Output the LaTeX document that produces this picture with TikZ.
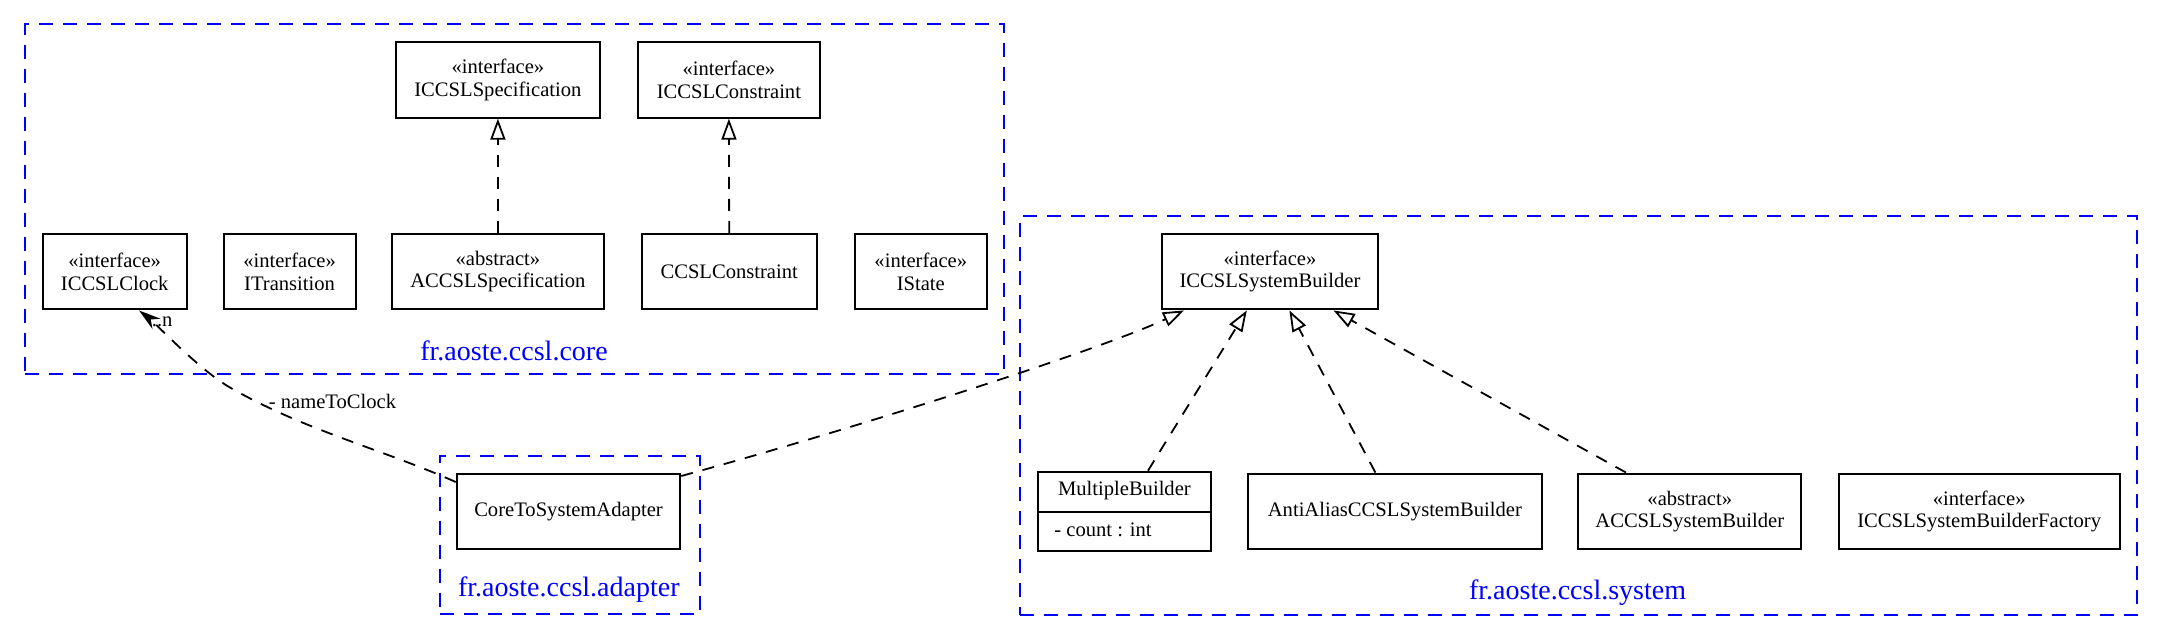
\documentclass[tikz,border=0pt]{standalone}
\usepackage{fontspec}
\setmainfont{Liberation Serif}
\usetikzlibrary{arrows.meta,calc}
\begin{document}
\begin{tikzpicture}[x=0.5pt,y=-0.5pt,
  cls/.style={draw, line width=1pt, inner sep=0pt, align=center, minimum height=37.75pt, font=\fontsize{10.3}{11.2}\selectfont},
  pkg/.style={draw=blue, line width=1pt, dash pattern=on 7pt off 5pt, inner sep=0pt},
  pkglabel/.style={text=blue, font=\fontsize{14}{16}\selectfont, inner sep=0pt},
  realize/.style={draw, line width=0.9pt, dash pattern=on 6pt off 5pt, -{Triangle[open,length=10.5pt,width=7.5pt]}},
  assoc/.style={draw, line width=0.9pt, dash pattern=on 6pt off 5pt, -{Stealth[length=11pt,width=6.5pt]}},
  lbl/.style={font=\fontsize{10.3}{11.2}\selectfont, inner sep=0pt}
]
\useasboundingbox (0,0) rectangle (2165,642);

% packages
\node[pkg, minimum width=489.5pt, minimum height=174.85pt] (core) at (514.5,199.15) {};
\node[pkg, minimum width=130pt, minimum height=79.15pt] (adapterpkg) at (570,534.85) {};
\node[pkg, minimum width=558.5pt, minimum height=199.5pt] (system) at (1578.5,415.5) {};
\node[pkglabel] (corelbl) at (514,350.7) {fr.aoste.ccsl.core};
\node[pkglabel] (adapterlbl) at (568.8,590) {fr.aoste.ccsl.adapter};
\node[pkglabel] (systemlbl) at (1577.6,592.3) {fr.aoste.ccsl.system};

% core classes
\node[cls, minimum width=102.4pt] (ispec) at (497.9,79.9) {«interface»\\ICCSLSpecification};
\node[cls, minimum width=91.15pt] (icons) at (728.9,79.9) {«interface»\\ICCSLConstraint};
\node[cls, minimum width=72.15pt] (iclock) at (114.7,271.7) {«interface»\\ICCSLClock};
\node[cls, minimum width=66.05pt] (itrans) at (289.6,271.7) {«interface»\\ITransition};
\node[cls, minimum width=105.6pt] (aspec) at (497.9,271.7) {«abstract»\\ACCSLSpecification};
\node[cls, minimum width=87.65pt] (ccslc) at (729.2,271.7) {CCSLConstraint};
\node[cls, minimum width=66.05pt] (istate) at (920.8,271.7) {«interface»\\IState};

% adapter
\node[cls, minimum width=111.75pt, minimum height=37.5pt] (adapter) at (568.5,511.2) {CoreToSystemAdapter};

% system classes
\node[cls, minimum width=108pt] (isysb) at (1270,271.7) {«interface»\\ICCSLSystemBuilder};
\node[cls, minimum width=86.35pt, minimum height=39.5pt] (multiple) at (1124.4,511.2) {};
\node[lbl] (multname) at (1124.4,490.7) {MultipleBuilder};
\coordinate (divy) at (0,511.7);
\draw[line width=1pt] (multiple.west |- divy) -- (multiple.east |- divy);
\node[lbl, anchor=west] (multattr) at (1054,530) {- count : int};
\node[cls, minimum width=146.7pt] (antialias) at (1394.9,511.3) {AntiAliasCCSLSystemBuilder};
\node[cls, minimum width=111.4pt] (accslsb) at (1689.8,511.3) {«abstract»\\ACCSLSystemBuilder};
\node[cls, minimum width=140.45pt] (factory) at (1979.2,511.3) {«interface»\\ICCSLSystemBuilderFactory};

% labels of association
\node[lbl] (nlabel) at (332.5,401.7) {- nameToClock};
\node[lbl, anchor=west] (mlabel) at (151.5,321.7) {..n};

% connectors
\coordinate (bend) at (230,387.5);
\draw[realize] (aspec.north) -- (ispec.south);
\draw[realize] (ccslc.north) -- (icons.south);
\draw[assoc] ($(adapter.north west)+(0,9.3)$) .. controls (381.7,449) and (305,430.5) .. (bend)
  .. controls (200,370.5) and (154,322) .. ($(iclock.south)+(24.3,0)$);
\draw[realize] ($(adapter.north east)+(0,3.3)$) .. controls (850,430) and (1100,350) .. ($(isysb.south)+(-86,0)$);
\draw[realize] ($(multiple.north)+(23.6,0)$) -- ($(isysb.south)+(-23.2,0)$);
\draw[realize] ($(antialias.north)+(-19.5,0)$) -- ($(isysb.south)+(19.4,0)$);
\draw[realize] ($(accslsb.north)+(-63.8,0)$) -- ($(isysb.south)+(63.5,0)$);
\end{tikzpicture}
\end{document}
